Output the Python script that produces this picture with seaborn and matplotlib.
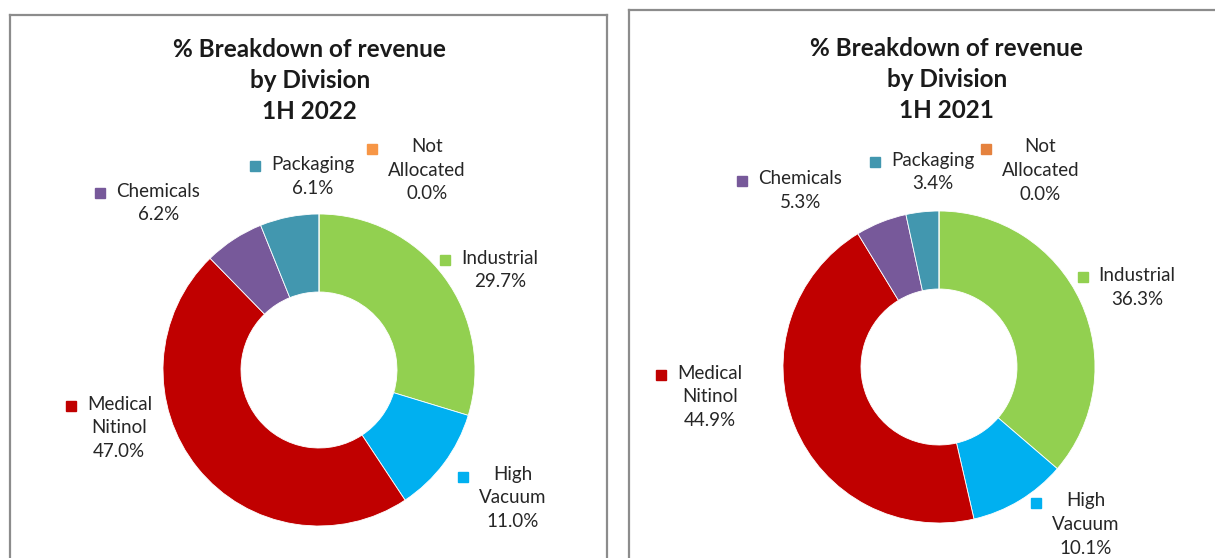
import matplotlib
matplotlib.use("Agg")
import matplotlib.pyplot as plt
import seaborn as sns

# revenue share by division, clockwise from 12 o'clock
divisions = ["Industrial", "High Vacuum", "Medical Nitinol", "Chemicals", "Packaging", "Not Allocated"]
label_names = ["Industrial", "High\nVacuum", "Medical\nNitinol", "Chemicals", "Packaging", "Not\nAllocated"]
share_1h2022 = [29.7, 11.0, 47.0, 6.2, 6.1, 0.0]
share_1h2021 = [36.3, 10.1, 44.9, 5.3, 3.4, 0.0]
titles = ["% Breakdown of revenue\nby Division\n1H 2022", "% Breakdown of revenue\nby Division\n1H 2021"]

colors_2022 = ["#92D050", "#00B0F0", "#C00000", "#77599A", "#4297AF", "#F79646"]
colors_2021 = ["#92D050", "#00B0F0", "#C00000", "#77599A", "#4297AF", "#E5823E"]

W, H = 1215, 558
R = 156  # donut radius in px

sns.set_theme(style="white")
plt.rcParams["font.family"] = ["Lato", "DejaVu Sans"]

# label centres in units of the donut radius (layout only)
label_xy_2022 = [(1.16, 0.64), (1.24, -0.82), (-1.28, -0.37), (-1.03, 1.07), (-0.04, 1.24), (0.69, 1.28)]
label_xy_2021 = [(1.27, 0.51), (0.94, -1.01), (-1.47, -0.19), (-0.89, 1.13), (-0.04, 1.25), (0.65, 1.26)]


def draw_panel(fig, box, center, values, colors, title, label_xy, title_xy):
    x0, x1, top, bottom = box
    cx, cy = center
    ax = fig.add_axes([x0 / W, (H - bottom) / H, (x1 - x0) / W, (bottom - top) / H])
    ax.pie(values, colors=colors, startangle=90, counterclock=False, radius=1,
           wedgeprops=dict(width=0.5, edgecolor="white", linewidth=0.6))
    ax.set_frame_on(True)
    ax.set_aspect("auto")
    ax.set_xlim((x0 - cx) / R, (x1 - cx) / R)
    ax.set_ylim((cy - bottom) / R, (cy - top) / R)
    ax.set_xticks([])
    ax.set_yticks([])
    for side, sp in ax.spines.items():
        sp.set_color("#8c8c8c")
        sp.set_linewidth(1.6)
        sp.set_visible(side in ("left", "top") or (side == "right" and x1 < W))

    ax.text(title_xy[0], title_xy[1], title, ha="center", va="center",
            fontsize=17.5, fontweight="bold", color="#1a1a1a", linespacing=1.42)

    texts = []
    for name, v, (lx, ly) in zip(label_names, values, label_xy):
        t = ax.text(lx, ly, f"{name}\n{v:.1f}%", ha="center", va="center",
                    multialignment="center", fontsize=13.5, color="#262626", linespacing=1.47)
        texts.append(t)
    return ax, texts


fig = plt.figure(figsize=(W / 100, H / 100), dpi=100)
fig.patch.set_facecolor("white")

panels = [
    draw_panel(fig, (10, 607, 15, 558), (319, 370), share_1h2022, colors_2022, titles[0],
               label_xy_2022, (-0.06, 1.853)),
    draw_panel(fig, (629, 1215, 10, 558), (939, 367), share_1h2021, colors_2021, titles[1],
               label_xy_2021, (0.05, 1.846)),
]

# legend keys: small square left of the first line of each label
fig.canvas.draw()
renderer = fig.canvas.get_renderer()
for (ax, texts), cols in zip(panels, [colors_2022, colors_2021]):
    inv = ax.transData.inverted()
    for t, c in zip(texts, cols):
        bb = t.get_window_extent(renderer)
        nlines = t.get_text().count("\n") + 1
        line_h = bb.height / nlines
        px, py = inv.transform((bb.x0 - 16, bb.y1 - line_h / 2))
        ax.plot(px, py, marker="s", markersize=7.5, color=c, linestyle="none", clip_on=False)

fig.savefig("out.png", dpi=100, facecolor="white")
